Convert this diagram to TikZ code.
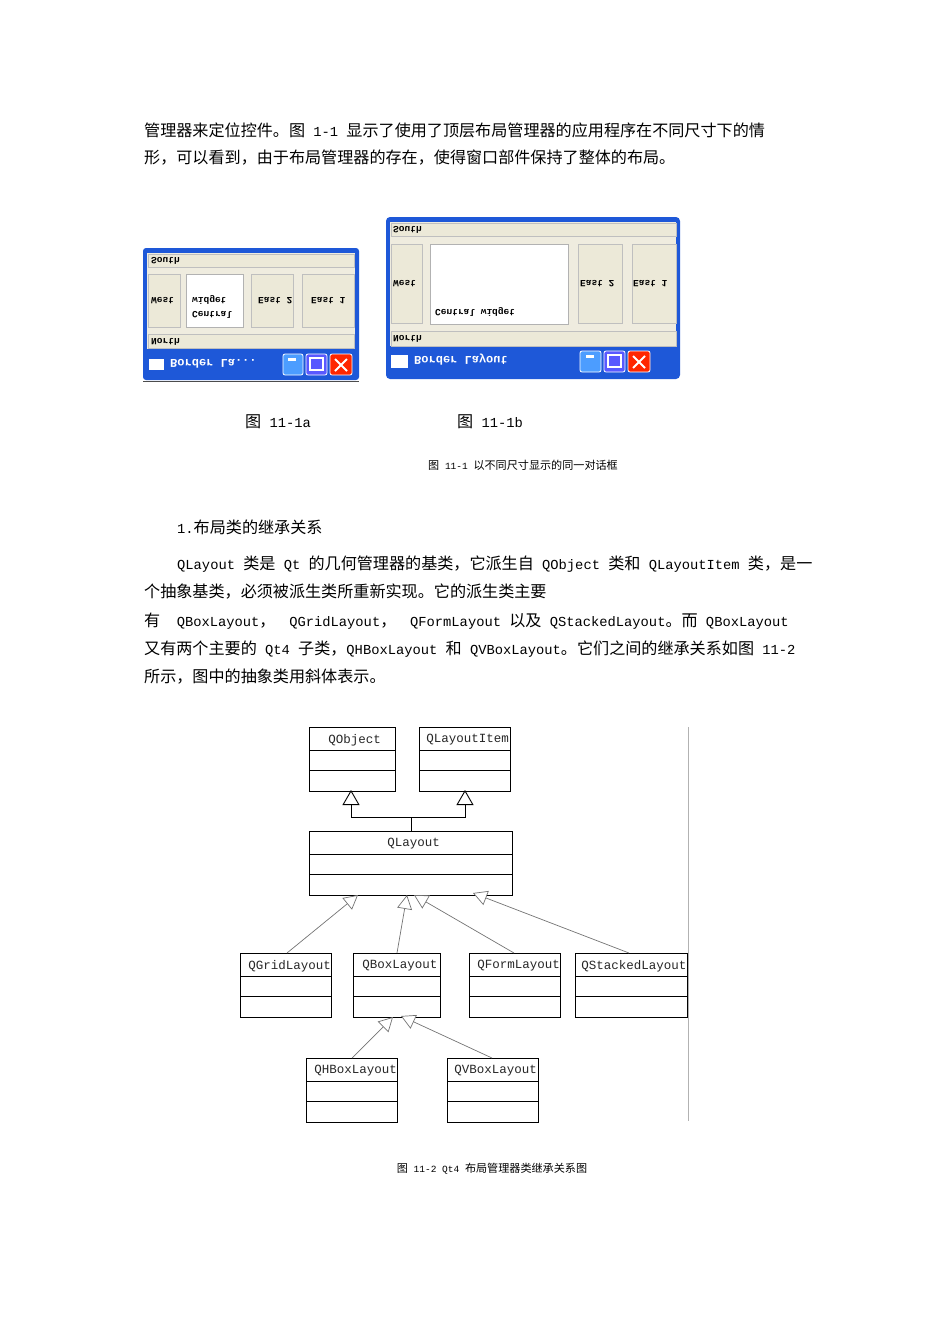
\documentclass[tikz,border=0pt]{standalone}
\usepackage{fontspec}
\setmainfont{Liberation Mono}[Scale=0.95]
\newfontfamily\cjk{Noto Sans CJK SC}[Scale=1.11]
\newfontfamily\lm{Liberation Mono}
\newfontfamily\ls{Liberation Mono}
\usetikzlibrary{arrows.meta,calc}
\newcommand{\fl}[1]{\scalebox{1}[-1]{#1}}
\definecolor{xpblue}{HTML}{1E58D8}
\definecolor{beige}{HTML}{EFECDF}
\definecolor{pnl}{HTML}{ECE9D8}
\tikzset{
 body/.style={anchor=west,inner sep=0,font=\fontsize{14.5}{14.5}\selectfont},
 cls/.style={draw,line width=0.9pt,minimum height=64pt,inner sep=0},
 ttl/.style={anchor=west,font=\lm\fontsize{12.5}{12.5}\selectfont,text=black!85},
 inh/.style={draw=black!55,line width=0.7pt,-{Triangle[open,length=14pt,width=15pt,fill=white]},shorten >=0pt},
 pan/.style={fill=pnl,draw=black!25,line width=0.6pt},
 wl/.style={anchor=west,inner sep=0,font=\ls\bfseries\fontsize{9.5}{9.5}\selectfont},
 btn/.style={rounded corners=2pt,draw=white,line width=0.8pt}
}
\begin{document}
\begin{tikzpicture}[x=1pt,y=-1pt]
\useasboundingbox (0,0) rectangle (950,1344);
% body text
\node[body] (t1) at (144,130) {{\cjk 管理器来定位控件。图} 1-1 {\cjk 显示了使用了顶层布局管理器的应用程序在不同尺寸下的情}};
\node[body] (t2) at (144,158) {{\cjk 形，可以看到，由于布局管理器的存在，使得窗口部件保持了整体的布局。}};
% left window
\fill[xpblue,rounded corners=3pt] (143,248) rectangle (359,380);
\fill[beige] (147,253) rectangle (355,349);
\draw[pan] (148,254) rectangle (354,267);
\node[wl] (ls) at (151,261) {\fl{South}};
\draw[pan] (148,274) rectangle (180,327);
\node[wl] (lw) at (151,301) {\fl{West}};
\fill[white] (186,274) rectangle (243,327); \draw[black!30] (186,274) rectangle (243,327);
\node[wl] (lc1) at (192,300) {\fl{widget}};
\node[wl] (lc2) at (192,315) {\fl{Central}};
\draw[pan] (251,274) rectangle (293,327);
\node[wl] (le2) at (258,301) {\fl{East 2}};
\draw[pan] (302,274) rectangle (354,327);
\node[wl] (le1) at (311,301) {\fl{East 1}};
\draw[pan] (148,334) rectangle (354,348);
\node[wl] (ln) at (151,342) {\fl{North}};
\fill[white] (149,359) rectangle (164,370);
\node[wl,text=white,font=\ls\bfseries\fontsize{12}{12}\selectfont] (lt) at (170,364) {\fl{Border La...}};
\fill[blue!55!cyan!70!white,btn] (283,354) rectangle (303,375);
\fill[white] (288,358) rectangle (296,361);
\fill[blue!65,btn] (306,354) rectangle (327,375);
\draw[white,line width=1.2pt] (310,358) rectangle (323,370);
\fill[red!70!orange,btn] (330,354) rectangle (352,375);
\draw[white,line width=2pt] (335,359)--(347,371) (347,359)--(335,371);
\draw[black!70] (143,381)--(359,381);
% right window
\fill[xpblue,rounded corners=4pt] (386,217) rectangle (680,379);
\fill[beige] (390,222) rectangle (676,346);
\draw[pan] (391,223) rectangle (676,236);
\node[wl] (rs) at (393,230) {\fl{South}};
\draw[pan] (391,244) rectangle (422,323);
\node[wl] (rw) at (393,284) {\fl{West}};
\fill[white] (430,244) rectangle (568,324); \draw[black!30] (430,244) rectangle (568,324);
\node[wl] (rc) at (435,312) {\fl{Central widget}};
\draw[pan] (578,244) rectangle (622,323);
\node[wl] (re2) at (580,284) {\fl{East 2}};
\draw[pan] (632,244) rectangle (676,323);
\node[wl] (re1) at (633,284) {\fl{East 1}};
\draw[pan] (391,331) rectangle (676,346);
\node[wl] (rn) at (393,339) {\fl{North}};
\fill[white] (391,355) rectangle (408,368);
\node[wl,text=white,font=\ls\bfseries\fontsize{12}{12}\selectfont] (rt) at (414,360) {\fl{Border Layout}};
\fill[blue!55!cyan!70!white,btn] (580,351) rectangle (601,372);
\fill[white] (586,355) rectangle (594,358);
\fill[blue!65,btn] (604,351) rectangle (625,372);
\draw[white,line width=1.2pt] (608,355) rectangle (621,367);
\fill[red!70!orange,btn] (628,351) rectangle (650,372);
\draw[white,line width=2pt] (633,356)--(645,368) (645,356)--(633,368);
% captions
\node[body] (c1) at (245,422) {{\cjk 图} 11-1a};
\node[body] (c2) at (457,422) {{\cjk 图} 11-1b};
\node[body,font=\fontsize{10}{10}\selectfont] (c3) at (428,465) {{\cjk 图} 11-1 {\cjk 以不同尺寸显示的同一对话框}};
\node[body] (h1) at (177,527) {1.{\cjk 布局类的继承关系}};
\node[body] (p1) at (177,564) {QLayout {\cjk 类是} Qt {\cjk 的几何管理器的基类，它派生自} QObject {\cjk 类和} QLayoutItem {\cjk 类，是一}};
\node[body] (p2) at (144,592) {{\cjk 个抽象基类，必须被派生类所重新实现。它的派生类主要}};
\node[body] (p3) at (144,621) {{\cjk 有}\hspace{1.2em}QBoxLayout{\cjk ，}\hspace{1em}QGridLayout{\cjk ，}\hspace{1em}QFormLayout {\cjk 以及} QStackedLayout{\cjk 。而} QBoxLayout};
\node[body] (p4) at (144,649) {{\cjk 又有两个主要的} Qt4 {\cjk 子类，}QHBoxLayout {\cjk 和} QVBoxLayout{\cjk 。它们之间的继承关系如图} 11-2};
\node[body] (p5) at (144,677) {{\cjk 所示，图中的抽象类用斜体表示。}};
% UML
\newcommand{\umlbox}[7]{% name, x1,y1,x2,y2, label, labelx
 \node[cls,minimum width=#4-#2,anchor=north west] (#1) at (#2,#3) {};
 \draw[line width=0.9pt] (#2,#3+23) -- (#4,#3+23) (#2,#3+43) -- (#4,#3+43);
 \node[ttl] (#1t) at (#7,#3+13) {#6};}
\umlbox{qobj}{309}{727}{395}{790}{QObject}{325}
\umlbox{qli}{419}{727}{510}{790}{QLayoutItem}{423}
\umlbox{qlay}{309}{831}{512}{895}{QLayout}{384}
\umlbox{qgrid}{240}{953}{331}{1017}{QGridLayout}{245}
\umlbox{qbox}{353}{953}{440}{1017}{QBoxLayout}{359}
\umlbox{qform}{469}{953}{560}{1017}{QFormLayout}{474}
\umlbox{qstack}{575}{953}{687}{1017}{QStackedLayout}{578}
\umlbox{qh}{306}{1058}{397}{1121}{QHBoxLayout}{311}
\umlbox{qv}{447}{1058}{538}{1121}{QVBoxLayout}{451}
\coordinate (j) at (411,817);
\draw[line width=0.9pt] (qlay.north -| j) -- (j);
\draw[line width=0.9pt,-{Triangle[open,length=15pt,width=17pt,fill=white]}] (j) -| (351,790);
\draw[line width=0.9pt,-{Triangle[open,length=15pt,width=17pt,fill=white]}] (j) -| (465,790);
\coordinate (a1) at (358,895); \coordinate (a2) at (407,895);
\coordinate (a3) at (414,895); \coordinate (a4) at (473,893);
\coordinate (b1) at (287,953); \coordinate (b2) at (397,953);
\coordinate (b3) at (514,953); \coordinate (b4) at (629,953);
\draw[inh] (b1) -- (a1);
\draw[inh] (b2) -- (a2);
\draw[inh] (b3) -- (a3);
\draw[inh] (b4) -- (a4);
\coordinate (h1a) at (393,1017); \coordinate (h2a) at (401,1016);
\coordinate (hb) at (352,1058); \coordinate (vb) at (492,1058);
\draw[inh] (hb) -- (h1a);
\draw[inh] (vb) -- (h2a);
\draw[black!30,line width=1pt] (688,727) -- (688,1121);
\node[body,font=\fontsize{10}{10}\selectfont,anchor=center] (c4) at (492,1169) {{\cjk 图} 11-2 Qt4 {\cjk 布局管理器类继承关系图}};
\end{tikzpicture}
\end{document}
